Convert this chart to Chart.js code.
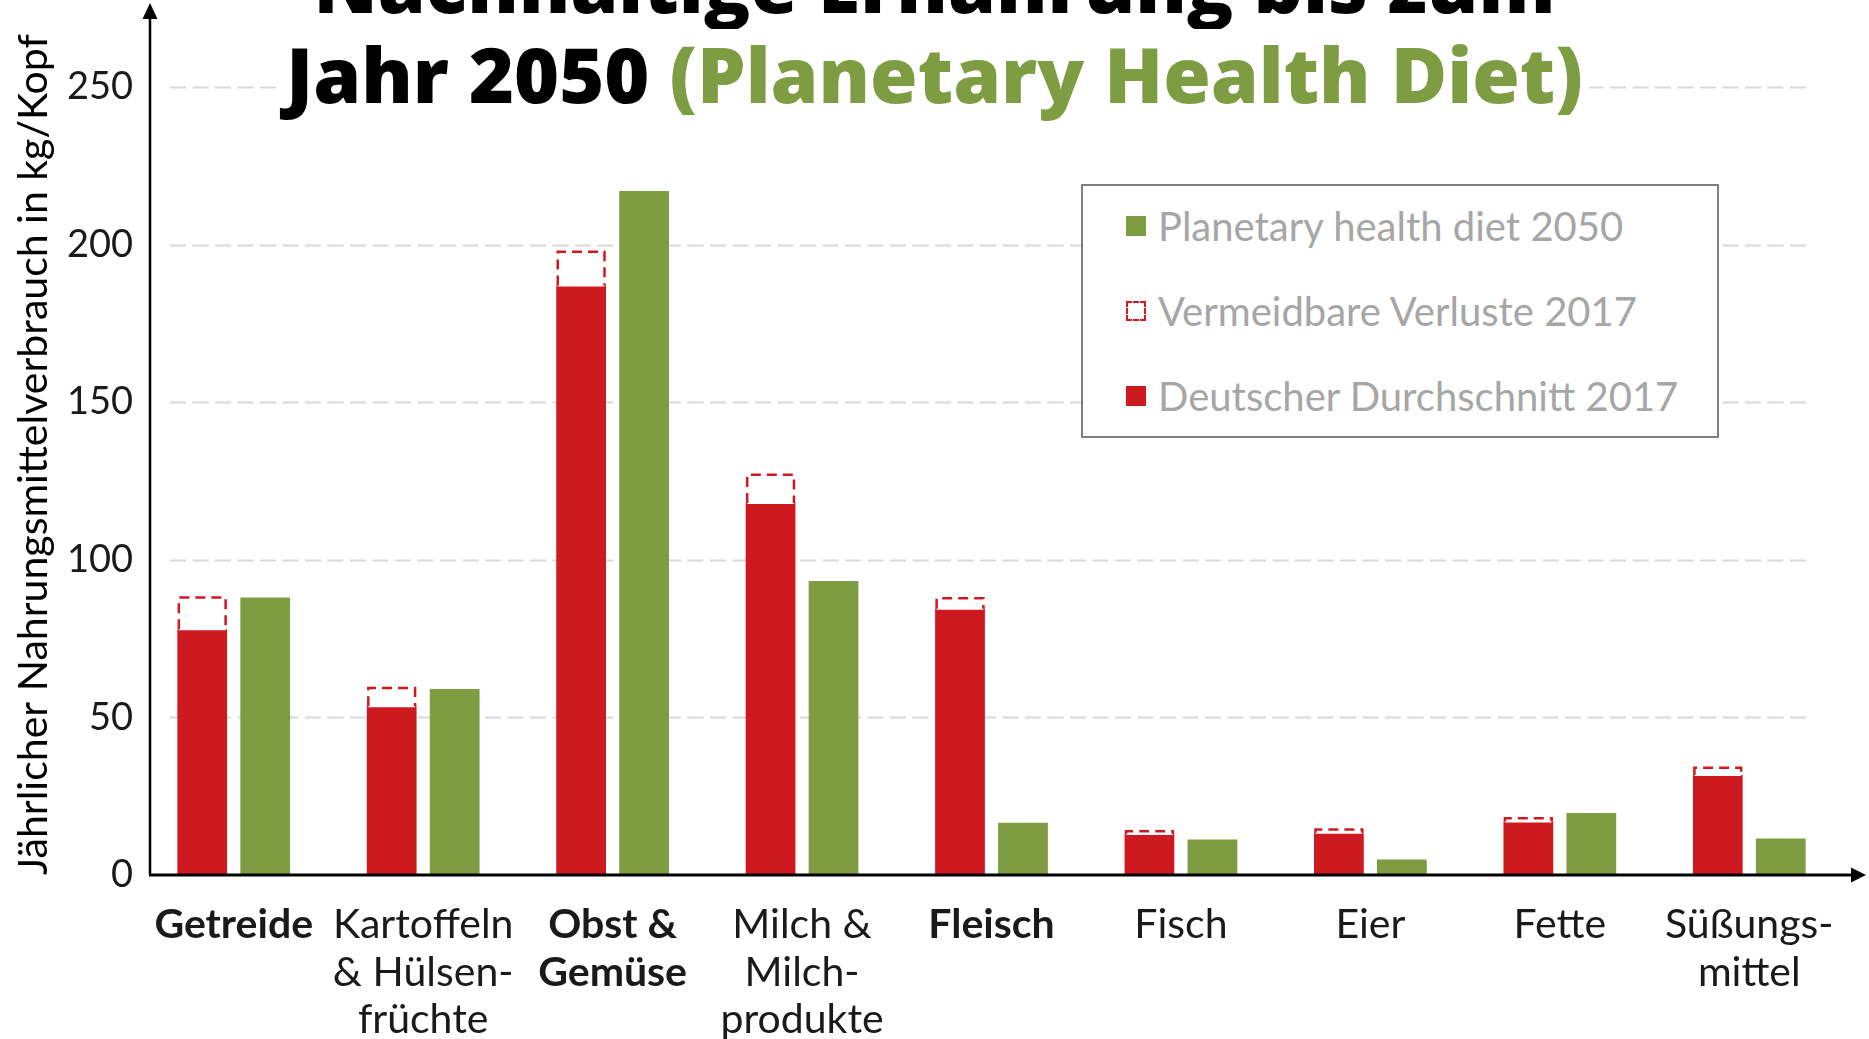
<!DOCTYPE html>
<html>
<head>
<meta charset="utf-8">
<script src="https://cdn.jsdelivr.net/npm/chart.js@4"></script>
<style>
  html, body { margin: 0; padding: 0; background: #fff; }
  #wrap { position: relative; width: 1869px; height: 1039px; overflow: hidden; }
  #title {
    position: absolute; left: 0; top: -61px; width: 1869px; text-align: center;
    font-family: 'Open Sans', sans-serif; font-weight: 800; font-size: 77px; line-height: 90px; color: #000;
  }
  #title .l2 { display: inline-block; background: #fff; padding: 0 6px; }
  #title .green { color: #7e9d42; }
  #legend {
    position: absolute; left: 1081px; top: 184px; width: 634px; height: 250px;
    border: 2.5px solid #7f7f7f; background: #fff; box-sizing: content-box;
    font-family: Lato, sans-serif; font-size: 40px; color: #a6a6a6;
  }
  #legend .row { display: flex; align-items: center; height: 85px; padding-left: 43px; margin-top: -3px; margin-bottom: 3px; }
  #legend .box { width: 20px; height: 20px; margin-right: 12px; box-sizing: border-box; }
</style>
</head>
<body>
<div id="wrap">
  <canvas id="myChart" width="1869" height="1039"></canvas>
  <div id="title">Nachhaltige Ernährung bis zum<br><span class="l2">Jahr 2050 <span class="green">(Planetary Health Diet)</span></span></div>
  <div id="legend"></div>
</div>
<script>
// Kategorien
const categories = [
  ['Getreide'],
  ['Kartoffeln', '& Hülsen-', 'früchte'],
  ['Obst &', 'Gemüse'],
  ['Milch &', 'Milch-', 'produkte'],
  ['Fleisch'],
  ['Fisch'],
  ['Eier'],
  ['Fette'],
  ['Süßungs-', 'mittel']
];
const boldCategories = [true, false, true, false, true, false, false, false, false];

// Werte in kg/Kopf
const durchschnitt2017 = [78, 53.5, 187, 118, 84.5, 13, 13.4, 17, 31.7];
const verluste2017 = [10, 5.8, 10.7, 9, 3.3, 0.9, 1, 1, 2.3];
const planetary2050 = [88, 59, 217, 93.3, 16.6, 11.3, 4.9, 19.7, 11.6];

const yTicks = [0, 50, 100, 150, 200, 250];

const red = 'rgb(206, 25, 32)';
const green = 'rgb(126, 157, 66)';

//Gitterlinien (gestrichelt)
const gridPlugin = {
  id: 'gridLines',
  beforeDatasetsDraw(chart) {
    const c = chart.ctx;
    const y = chart.scales.y;
    const area = chart.chartArea;
    c.save();
    c.strokeStyle = '#d9d9d9';
    c.lineWidth = 2;
    c.setLineDash([16, 6.5]);
    yTicks.forEach(v => {
      if (v === 0) return;
      const py = Math.round(y.getPixelForValue(v)) + 0.5;
      c.beginPath();
      c.moveTo(area.left + 31, py);
      c.lineTo(area.right - 32, py);
      c.stroke();
    });
    c.restore();
  }
};

//vermeidbare Verluste als gestrichelter Rahmen
const verlustePlugin = {
  id: 'verluste',
  afterDatasetsDraw(chart) {
    const meta = chart.getDatasetMeta(1);
    const c = chart.ctx;
    c.save();
    meta.data.forEach(bar => {
      const p = bar.getProps(['x', 'y', 'base', 'width'], true);
      const l = p.x - p.width / 2 + 1.5;
      const r = p.x + p.width / 2 - 1.5;
      c.setLineDash([]);
      c.strokeStyle = '#fff';
      c.lineWidth = 2;
      c.beginPath();
      c.moveTo(l, p.base);
      c.lineTo(r, p.base);
      c.stroke();
      c.setLineDash([10, 6]);
      c.strokeStyle = red;
      c.lineWidth = 2.5;
      c.beginPath();
      c.moveTo(l, p.base);
      c.lineTo(l, p.y);
      c.lineTo(r, p.y);
      c.lineTo(r, p.base);
      c.stroke();
    });
    c.restore();
  }
};

//Achsen mit Pfeilen
const axisPlugin = {
  id: 'arrows',
  afterDraw(chart) {
    const c = chart.ctx;
    const area = chart.chartArea;
    const x0 = area.left + 11;
    const y0 = chart.scales.y.getPixelForValue(0);
    c.save();
    c.setLineDash([]);
    c.strokeStyle = '#000';
    c.fillStyle = '#000';
    c.lineWidth = 2.5;
    c.beginPath();
    c.moveTo(x0, y0);
    c.lineTo(x0, 16);
    c.stroke();
    c.beginPath();
    c.moveTo(x0, 3);
    c.lineTo(x0 - 7.5, 19);
    c.lineTo(x0 + 7.5, 19);
    c.closePath();
    c.fill();
    c.lineWidth = 3;
    c.beginPath();
    c.moveTo(x0 - 1, y0);
    c.lineTo(chart.width - 15, y0);
    c.stroke();
    c.beginPath();
    c.moveTo(chart.width - 3, y0);
    c.lineTo(chart.width - 18, y0 - 7.5);
    c.lineTo(chart.width - 18, y0 + 7.5);
    c.closePath();
    c.fill();
    c.restore();
  }
};

const ctx = document.getElementById('myChart').getContext('2d');
const myChart = new Chart(ctx, {
  type: 'bar',
  data: {
    labels: categories,
    datasets: [
      {
        label: 'Deutscher Durchschnitt 2017',
        data: durchschnitt2017,
        backgroundColor: red,
        stack: '2017'
      },
      {
        label: 'Vermeidbare Verluste 2017',
        data: verluste2017,
        backgroundColor: 'rgba(0,0,0,0)',
        stack: '2017'
      },
      {
        label: 'Planetary health diet 2050',
        data: planetary2050,
        backgroundColor: green,
        stack: '2050'
      }
    ]
  },
  options: {
    responsive: false,
    animation: false,
    datasets: { bar: { categoryPercentage: 0.665, barPercentage: 0.79 } },
    layout: { padding: { top: 87, right: 25, left: 0, bottom: 0 } },
    plugins: {
      legend: { display: false },
      title: { display: false },
      tooltip: { enabled: false }
    },
    scales: {
      x: {
        stacked: true,
        grid: { display: false, drawTicks: false },
        border: { display: false },
        ticks: {
          autoSkip: false,
          maxRotation: 0,
          padding: 26,
          color: '#1a1a1a',
          font: (c) => ({ family: 'Lato', size: 41, lineHeight: 1.16, weight: boldCategories[c.index] ? 'bold' : 'normal' })
        },
        afterFit: (s) => { s.height = 164; }
      },
      y: {
        stacked: true,
        min: 0,
        max: 250,
        grid: { display: false, drawTicks: false },
        border: { display: false },
        ticks: {
          stepSize: 50,
          padding: 6,
          color: '#1a1a1a',
          font: { family: 'Lato', size: 38 }
        },
        title: {
          display: true,
          text: 'Jährlicher Nahrungsmittelverbrauch in kg/Kopf',
          align: 'start',
          color: '#000',
          font: { family: 'Lato', size: 41, lineHeight: 1.2 },
          padding: { top: 9, bottom: 0 }
        },
        afterFit: (s) => { s.width = 139; }
      }
    }
  },
  plugins: [gridPlugin, verlustePlugin, axisPlugin]
});

//Legende (Reihenfolge umgekehrt)
const legendEl = document.getElementById('legend');
[2, 1, 0].forEach(i => {
  const ds = myChart.data.datasets[i];
  const row = document.createElement('div');
  row.className = 'row';
  const box = document.createElement('span');
  box.className = 'box';
  if (i === 1) {
    box.style.border = '2.5px dashed ' + red;
  } else {
    box.style.background = ds.backgroundColor;
  }
  const txt = document.createElement('span');
  txt.textContent = ds.label;
  row.appendChild(box);
  row.appendChild(txt);
  legendEl.appendChild(row);
});
</script>
</body>
</html>
